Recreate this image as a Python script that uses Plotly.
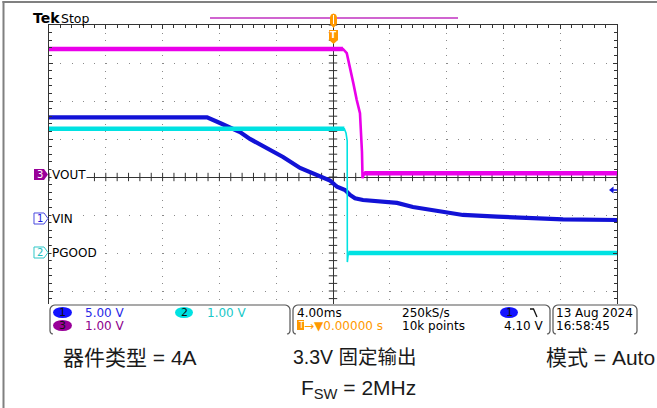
import plotly.graph_objects as go

# ---------------- data (time in ms relative to trigger, values in volts) ----------------
VIN_T = [-20, -8.87, -7.96, -7.25, -6.55, -5.85, -4.65, -3.52, -2.32, -1.13, -0.21, 0.28, 0.85,
         1.20, 1.55, 2.11, 3.31, 4.51, 5.63, 6.83, 8.03, 9.15, 11.55, 13.87, 16.20, 20]
VIN_V = [13.38, 13.38, 12.63, 12.11, 11.45, 10.53, 9.34, 8.16, 6.71, 5.79, 5.07, 4.25, 3.82,
         3.16, 2.72, 2.50, 2.37, 2.11, 1.58, 1.18, 0.83, 0.53, 0.30, 0.09, -0.04, -0.13]
PGOOD_T = [-20, 0.80, 0.92, 1.00, 1.01, 1.08, 20]
PGOOD_V = [3.27, 3.27, 3.15, 2.95, -0.24, 0.0, 0.0]
VOUT_T = [-20, 0.70, 0.97, 1.20, 1.43, 1.67, 1.90, 2.04, 2.08, 2.20, 20]
VOUT_V = [3.37, 3.37, 3.26, 2.89, 2.47, 2.03, 1.68, 0.66, -0.03, 0.10, 0.10]

CH_NAMES = ["VOUT", "VIN", "PGOOD"]
CH_SCALE = {"VIN": 5.0, "PGOOD": 1.0, "VOUT": 1.0}      # V/div
CH_OFFSET = {"VIN": -1.105, "PGOOD": -2.0, "VOUT": 0.0}  # ground position, div
STATUS = {"ch1": "5.00 V", "ch2": "1.00 V", "ch3": "1.00 V", "tdiv": "4.00ms",
          "rate": "250kS/s", "rec": "10k points", "tlev": "4.10 V",
          "date": "13 Aug 2024", "time": "16:58:45", "tpos": "0.00000 s"}
CAPTIONS = ["器件类型 = 4A", "3.3V 固定输出", "模式 = Auto", "F<sub>SW</sub> = 2MHz"]

# ---------------- colours ----------------
C_BLUE = "#1212d6"
C_CYAN = "#00e2e2"
C_MAG = "#ea00ea"
C_PURPLE = "#990099"
C_ORANGE = "#ff9900"
C_AX = "#333333"
FONT = "DejaVu Sans"

W, H = 657, 408
L, R, T, B = 49, 617, 25, 329


def fx(x):
    return (x - L) / (R - L)


def fy(y):
    return (B - y) / (B - T)


def yrange(name):
    s, o = CH_SCALE[name], CH_OFFSET[name]
    return [(-4 - o) * s, (4 - o) * s]


fig = go.Figure()

# graticule ticks on the centre lines
gx = [-20 + 0.8 * i for i in range(51)]
gy = [-4 + 0.2 * i for i in range(41)]
fig.add_trace(go.Scatter(x=gx, y=[0] * len(gx), mode="markers", yaxis="y",
                         marker=dict(symbol="line-ns", size=6, line=dict(width=1, color=C_AX)),
                         hoverinfo="skip", showlegend=False))
fig.add_trace(go.Scatter(x=[0] * len(gy), y=gy, mode="markers", yaxis="y",
                         marker=dict(symbol="line-ew", size=6, line=dict(width=1, color=C_AX)),
                         hoverinfo="skip", showlegend=False))

# PGOOD (ch2)
fig.add_trace(go.Scatter(x=PGOOD_T, y=PGOOD_V, yaxis="y3", mode="lines",
                         line=dict(color=C_CYAN, width=1.6), showlegend=False))
for a, b in [(0, 2), (5, 7)]:
    fig.add_trace(go.Scatter(x=PGOOD_T[a:b], y=PGOOD_V[a:b], yaxis="y3", mode="lines",
                             line=dict(color=C_CYAN, width=4.5), showlegend=False))
# VOUT (ch3)
fig.add_trace(go.Scatter(x=VOUT_T, y=VOUT_V, yaxis="y", mode="lines",
                         line=dict(color=C_MAG, width=2.6), showlegend=False))
for a, b in [(0, 2), (9, 11)]:
    fig.add_trace(go.Scatter(x=VOUT_T[a:b], y=VOUT_V[a:b], yaxis="y", mode="lines",
                             line=dict(color=C_MAG, width=4.5), showlegend=False))
# VIN (ch1)
fig.add_trace(go.Scatter(x=VIN_T, y=VIN_V, yaxis="y2", mode="lines",
                         line=dict(color=C_BLUE, width=4.2), showlegend=False))

shapes = []
ann = []


def P(pts, close=False):
    s = "M " + " L ".join(f"{fx(x):.5f},{fy(y):.5f}" for x, y in pts)
    return s + (" Z" if close else "")


def txt(x, y, s, size=12, color="#000", anchor="left", family=FONT, bg=None):
    d = dict(x=fx(x), y=fy(y), xref="paper", yref="paper", text=s, showarrow=False,
             xanchor=anchor, yanchor="middle", borderpad=0,
             font=dict(size=size, color=color, family=family))
    if bg:
        d["bgcolor"] = bg
    ann.append(d)


def arc(cx, cy, r, a0, a1, n=5):
    import math
    return [(cx + r * math.cos(math.radians(a0 + (a1 - a0) * i / n)),
             cy + r * math.sin(math.radians(a0 + (a1 - a0) * i / n))) for i in range(n + 1)]


def bracket(x0, x1, y0, y1, r=5):
    pts = [(x0 + 3, y1)]
    pts += arc(x0 + 3, y1 - 3, 3, 90, 180, 3)
    pts += arc(x0 + r, y0 + r, r, 180, 270)
    pts += arc(x1 - r, y0 + r, r, 270, 360)
    pts += arc(x1 - 3, y1 - 3, 3, 0, 90, 3)
    return P(pts)


# status area (white cover + boxes)
shapes.append(dict(type="rect", xref="paper", yref="paper", x0=fx(44), x1=fx(640),
                   y0=fy(337), y1=fy(304), fillcolor="white", line=dict(width=0), layer="above"))
for x0, x1 in [(50, 290), (293, 550), (553, 637)]:
    shapes.append(dict(type="path", xref="paper", yref="paper", path=bracket(x0, x1, 305, 334),
                       line=dict(color="#555", width=1.2), layer="above"))

# ovals
for (x0, y0, x1, y1, col, lab) in [(53, 307, 72, 318, "#1414ff", "1"), (53, 320, 72, 331, C_PURPLE, "3"),
                                    (175, 307, 193, 318, C_CYAN, "2"), (500, 307, 518, 318, "#1414ff", "1")]:
    shapes.append(dict(type="circle", xref="paper", yref="paper", x0=fx(x0), x1=fx(x1),
                       y0=fy(y1), y1=fy(y0), fillcolor=col, line=dict(width=0), layer="above"))
    txt((x0 + x1) / 2, (y0 + y1) / 2, lab, size=11, color="#111", anchor="center")

txt(84, 312.5, STATUS["ch1"], color="#2828e6")
txt(84, 325.5, STATUS["ch3"], color="#8c008c")
txt(206, 312.5, STATUS["ch2"], color="#19c8c8")
txt(296, 312.5, STATUS["tdiv"], color="#000")
shapes.append(dict(type="rect", xref="paper", yref="paper", x0=fx(297), x1=fx(304), y0=fy(330),
                   y1=fy(320), fillcolor=C_ORANGE, line=dict(width=0), layer="above"))
txt(300.5, 325, "T", size=8, color="white", anchor="center")
txt(303, 325.5, "→▼" + STATUS["tpos"], color=C_ORANGE)
txt(401, 312.5, STATUS["rate"])
txt(401, 325.5, STATUS["rec"])
txt(503, 325.5, STATUS["tlev"])
shapes.append(dict(type="path", xref="paper", yref="paper",
                   path=P([(530, 309), (533.5, 309), (537, 317)]),
                   line=dict(color="#111", width=1.3), layer="above"))
txt(555, 312.5, STATUS["date"])
txt(555, 325.5, STATUS["time"])

# channel ground markers and labels
shapes.append(dict(type="path", xref="paper", yref="paper",
                   path=P([(34, 169), (44, 169), (48, 174.5), (44, 180), (34, 180)], True),
                   fillcolor=C_PURPLE, line=dict(width=0), layer="above"))
txt(40, 174.5, "3", size=10, color="white", anchor="center")
shapes.append(dict(type="path", xref="paper", yref="paper",
                   path=P([(34, 213), (44, 213), (48, 218.5), (44, 224), (34, 224)], True),
                   fillcolor="white", line=dict(color="#4a4ae0", width=1), layer="above"))
txt(40, 218.5, "1", size=10, color="#2020e0", anchor="center")
shapes.append(dict(type="path", xref="paper", yref="paper",
                   path=P([(34, 247), (44, 247), (48, 252.5), (44, 258), (34, 258)], True),
                   fillcolor="white", line=dict(color="#30c8c8", width=1), layer="above"))
txt(40, 252.5, "2", size=10, color="#20c0c0", anchor="center")
txt(51, 174.5, CH_NAMES[0], bg="white")
txt(51, 219, CH_NAMES[1], bg="white")
txt(51, 253, CH_NAMES[2], bg="white")

# trigger level arrow
shapes.append(dict(type="path", xref="paper", yref="paper",
                   path=P([(609, 190), (613.5, 186.5), (613.5, 193.5)], True),
                   fillcolor=C_BLUE, line=dict(width=0), layer="above"))
shapes.append(dict(type="line", xref="paper", yref="paper", x0=fx(613), x1=fx(617),
                   y0=fy(190), y1=fy(190), line=dict(color=C_BLUE, width=1.5), layer="above"))

# header
txt(32, 18, "<b>Tek</b>", size=14)
txt(60, 18.5, "Stop", size=12.5)
shapes.append(dict(type="line", xref="paper", yref="paper", x0=fx(210), x1=fx(458),
                   y0=fy(18), y1=fy(18), line=dict(color="#c030c0", width=1.4)))
shapes.append(dict(type="path", xref="paper", yref="paper",
                   path=P(arc(333.5, 17, 3.5, 180, 360, 4) + [(337, 24), (333.5, 28), (330, 24)], True),
                   fillcolor=C_ORANGE, line=dict(width=0)))
shapes.append(dict(type="line", xref="paper", yref="paper", x0=fx(333.5), x1=fx(333.5),
                   y0=fy(24), y1=fy(15), line=dict(color="white", width=1)))
shapes.append(dict(type="path", xref="paper", yref="paper",
                   path=P([(329, 30), (338, 30), (338, 40), (333.5, 44), (329, 40)], True),
                   fillcolor=C_ORANGE, line=dict(width=0), layer="above"))
txt(333.5, 35.5, "<b>T</b>", size=9, color="white", anchor="center")

# outer frame
shapes.append(dict(type="line", xref="paper", yref="paper", x0=fx(3.5), x1=fx(3.5),
                   y0=fy(1), y1=fy(410), line=dict(color="#808080", width=2)))
shapes.append(dict(type="line", xref="paper", yref="paper", x0=fx(2.5), x1=fx(660),
                   y0=fy(2), y1=fy(2), line=dict(color="#808080", width=2)))

# captions
CF = "Liberation Sans, Noto Sans CJK SC"
CC = "#1a1a1a"
txt(62, 357, CAPTIONS[0], size=21, color=CC, family=CF)
txt(292, 357, CAPTIONS[1], size=19.5, color=CC, family=CF)
txt(545, 357, CAPTIONS[2], size=21, color=CC, family=CF)
txt(300, 389, CAPTIONS[3], size=21, color=CC, family=CF)

axcommon = dict(showticklabels=False, ticks="inside", ticklen=4, tickcolor=C_AX, tickwidth=1,
                showline=True, linecolor=C_AX, linewidth=1, mirror="ticks",
                zeroline=True, zerolinecolor=C_AX, zerolinewidth=1,
                showgrid=True, gridcolor="#8a8a8a", gridwidth=1, fixedrange=True)

fig.update_layout(
    width=W, height=H,
    margin=dict(l=L, r=W - R, t=T, b=H - B, pad=0),
    paper_bgcolor="white", plot_bgcolor="white",
    showlegend=False, hovermode=False,
    xaxis=dict(range=[-20, 20], dtick=4, tick0=0, griddash="1px,6.6px",
               minor=dict(dtick=0.8, ticks="inside", ticklen=3, tickcolor=C_AX, showgrid=False),
               **axcommon),
    yaxis=dict(range=[-4, 4], dtick=1, tick0=0, griddash="1px,10.36px",
               minor=dict(dtick=0.2, ticks="inside", ticklen=3, tickcolor=C_AX, showgrid=False),
               **axcommon),
    yaxis2=dict(range=yrange("VIN"), overlaying="y", visible=False, fixedrange=True),
    yaxis3=dict(range=yrange("PGOOD"), overlaying="y", visible=False, fixedrange=True),
    shapes=shapes, annotations=ann,
)

fig.write_html("out.html", config={"displayModeBar": False},
               post_script="document.body.style.margin='0';document.body.style.overflow='hidden';")
